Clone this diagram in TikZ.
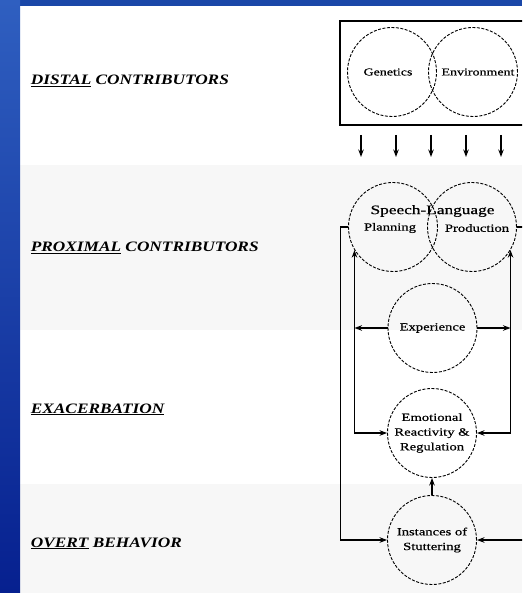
\documentclass[tikz,border=0pt]{standalone}
\usepackage{fontspec}
\setmainfont{Liberation Serif}
\newfontfamily\cfont{Liberation Serif}[FakeStretch=1.33,FakeBold=0.6]
\newfontfamily\lfont{Liberation Serif}[FakeStretch=1.2]
\usetikzlibrary{arrows.meta}
\definecolor{bandgray}{HTML}{F7F7F7}
\definecolor{bluetop}{HTML}{1A47A8}
\definecolor{bluelight}{HTML}{2F5FC0}
\definecolor{bluedark}{HTML}{06208F}
\begin{document}
\begin{tikzpicture}[x=1pt,y=-1pt,
  circ/.style={circle, draw, dash pattern=on 3pt off 1.5pt, line width=0.9pt,
    minimum size=89pt, inner sep=0pt, align=center,
    font=\cfont\fontsize{11}{14.7}\selectfont},
  ctext/.style={inner sep=0pt, font=\cfont\fontsize{11}{14}\selectfont},
  conn/.style={line width=1.2pt},
  arr/.style={conn, -{Stealth[length=7.5pt,width=5.5pt]}},
  biarr/.style={conn, {Stealth[length=7.5pt,width=5.5pt]}-{Stealth[length=7.5pt,width=5.5pt]}},
  lab/.style={anchor=base west, inner sep=0pt,
    font=\lfont\bfseries\itshape\fontsize{14.4}{16}\selectfont}]
\useasboundingbox (0,0) rectangle (522,593);
\clip (0,0) rectangle (522,593);
% background
\fill[white] (0,0) rectangle (522,593);
\fill[bandgray] (20,165) rectangle (522,330);
\fill[bandgray] (20,484) rectangle (522,593);
\fill[bluetop] (0,0) rectangle (522,6);
\shade[top color=bluelight, bottom color=bluedark] (0,0) rectangle (20,593);
% labels
\node[lab] (distal) at (30.7,85) {\underline{DISTAL} CONTRIBUTORS};
\node[lab] (proximal) at (30.7,251.5) {\underline{PROXIMAL} CONTRIBUTORS};
\node[lab] (exac) at (30.7,413) {\underline{EXACERBATION}};
\node[lab] (overt) at (30.7,547) {\underline{OVERT} BEHAVIOR};
% distal box
\draw[line width=1.2pt] (340,21) rectangle (530,125);
\node[circ] (gen) at (392,72) {};
\node[circ] (env) at (473,72) {};
\node[ctext, font=\cfont\fontsize{10.5}{13}\selectfont] (gentxt) at (388,72) {Genetics};
\node[ctext, font=\cfont\fontsize{10.5}{13}\selectfont] (envtxt) at (478,72) {Environment};
% down arrows
\foreach \x [count=\i] in {361,396,431,466,501} {
  \coordinate (d\i a) at (\x,135);
  \coordinate (d\i b) at (\x,157);
  \draw[arr] (d\i a) -- (d\i b);
}
% speech-language
\node[circ] (plan) at (393,227) {};
\node[circ] (prod) at (472,227) {};
\node[ctext, font=\cfont\fontsize{13}{15}\selectfont] (sl) at (432.5,211) {Speech-Language};
\node[ctext] (plantxt) at (390,228) {Planning};
\node[ctext] (prodtxt) at (477,228) {Production};
% other circles
\node[circ] (exp) at (432.5,328) {Experience};
\node[circ] (emo) at (432,433) {Emotional\\Reactivity \&\\Regulation};
\node[circ] (inst) at (432,540) {Instances of\\Stuttering};
% connectors
\draw[arr] (plan.west) -- ++(-7.5,0) |- (inst.west);
\draw[arr] (prod.east) -- ++(14,0) |- (inst.east);
\draw[biarr] (plan.211) |- (emo.west);
\draw[biarr] (prod.329) |- (emo.east);
\draw[arr] (exp.west) -- (exp.west -| plan.211);
\draw[arr] (exp.east) -- (exp.east -| prod.329);
\draw[arr] (inst.north) -- (emo.south);
\end{tikzpicture}
\end{document}
